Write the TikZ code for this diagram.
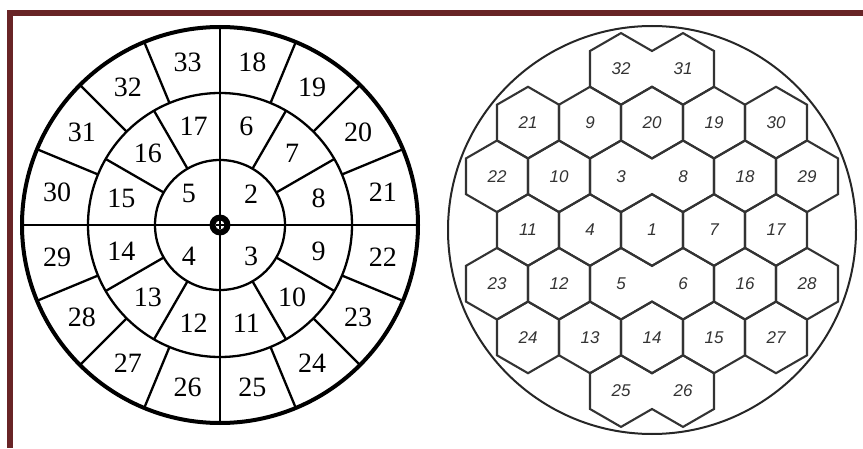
\documentclass[tikz,border=0pt]{standalone}
\usepackage{fontspec}
\setmainfont{Liberation Serif}
\newfontfamily\hexfont{Liberation Sans}
\definecolor{marco}{RGB}{104,36,38}

\begin{document}
\begin{tikzpicture}[x=1pt, y=1pt,
	anillo/.style={line width=2.3pt},
	celda/.style={line width=2.1pt, draw=black!80, line join=miter},
	num/.style={inner sep=0pt, font=\fontsize{28}{30}\selectfont},
	hnum/.style={inner sep=0pt, text=black!80, font=\hexfont\itshape\fontsize{17}{18}\selectfont}]

\useasboundingbox (0,0) rectangle (863,448);

% Marco
\fill[marco] (7,0) rectangle (13,438);
\fill[marco] (7,432) rectangle (863,438);

% Disco por anillos
\begin{scope}[shift={(220,223)}]
	\draw[line width=4pt] (0,0) circle (198);
	\draw[anillo] (0,0) circle (132);
	\draw[anillo] (0,0) circle (65);
	\draw[anillo] (-198,0) -- (198,0);
	\draw[anillo] (0,-198) -- (0,198);

	\foreach \a in {30, 60, ..., 330}
		\draw[anillo] (\a:65) -- (\a:132);

	\foreach \a in {22.5, 45, ..., 337.5}
		\draw[anillo] (\a:132) -- (\a:198);

	\foreach \n [count=\i from 0] in {2, 3, 4, 5}
		\node[num] (d\n) at ({45-90*\i}:44) {\n};

	\foreach \n [count=\i from 0] in {6, 7, ..., 17}
		\node[num] (d\n) at ({75-30*\i}:102) {\n};

	\foreach \n [count=\i from 0] in {18, 19, ..., 33}
		\node[num] (d\n) at ({78.75-22.5*\i}:166) {\n};

	% centro
	\fill (0,0) circle (10.5);
	\fill[white] (0,0) circle (4.5);
	\draw[line width=1.4pt] (-4.5,0) -- (4.5,0) (0,-4.5) -- (0,4.5);
\end{scope}

% Panal de hexagonos
\begin{scope}[shift={(652,218)}]
	\draw[line width=2pt, black!85] (0,0) circle (204);

	\foreach \x/\y/\n in {-124/107.4/21, -62/107.4/9, 0/107.4/20, 62/107.4/19, 124/107.4/30,
			-155/53.7/22, -93/53.7/10, 93/53.7/18, 155/53.7/29,
			-124/0/11, -62/0/4, 0/0/1, 62/0/7, 124/0/17,
			-155/-53.7/23, -93/-53.7/12, 93/-53.7/16, 155/-53.7/28,
			-124/-107.4/24, -62/-107.4/13, 0/-107.4/14, 62/-107.4/15, 124/-107.4/27}
	{
		\draw[celda] (\x,\y) ++(90:35.8) -- ++(-30:35.8) -- ++(-90:35.8)
			-- ++(-150:35.8) -- ++(150:35.8) -- ++(90:35.8) -- cycle;
		\node[hnum] (h\n) at (\x,\y) {\n};
	}

	% pares unidos
	\foreach \y/\na/\nb in {161.1/32/31, 53.7/3/8, -53.7/5/6, -161.1/25/26}
	{
		\draw[celda] (-62,\y+17.9) -- (-31,\y+35.8) -- (0,\y+17.9) -- (31,\y+35.8)
			-- (62,\y+17.9) -- (62,\y-17.9) -- (31,\y-35.8) -- (0,\y-17.9)
			-- (-31,\y-35.8) -- (-62,\y-17.9) -- cycle;
		\node[hnum] (h\na) at (-31,\y) {\na};
		\node[hnum] (h\nb) at (31,\y) {\nb};
	}
\end{scope}
\end{tikzpicture}
\end{document}
